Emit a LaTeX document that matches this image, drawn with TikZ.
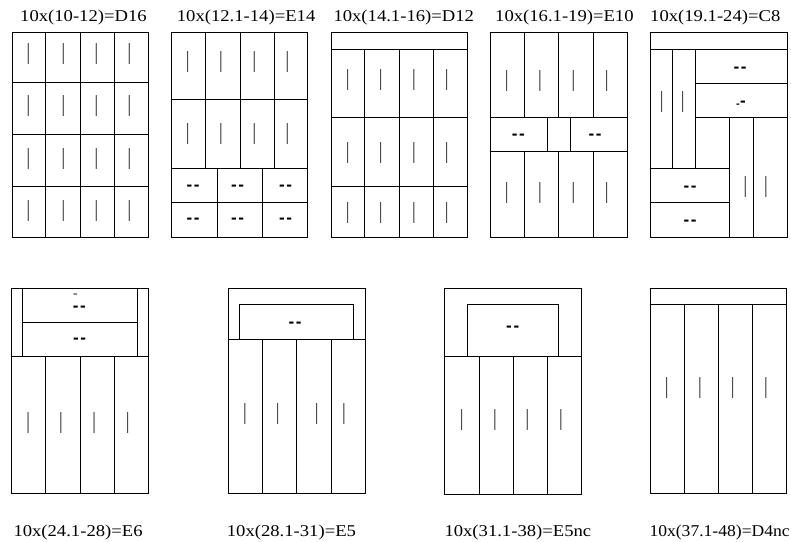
\documentclass[tikz,border=0pt]{standalone}
\usepackage{fontspec}
\setmainfont{Liberation Serif}
\newfontfamily\dashfont{Liberation Sans}
\tikzset{
  wall/.style={draw=black, line width=1pt},
  lbl/.style={anchor=base west, inner sep=0pt, font=\fontsize{16.5}{16.5}\selectfont},
  barmark/.style={inner sep=0pt, text=black!70, font=\fontsize{23}{23}\selectfont},
  dashmark/.style={anchor=base, inner sep=0pt, font=\dashfont\bfseries\fontsize{17}{17}\selectfont},
}
\newcommand{\dd}{-\kern1.6pt-}
\begin{document}
\begin{tikzpicture}[x=1pt,y=-1pt]
\useasboundingbox (0,0) rectangle (791,541);
% ---------- labels ----------
\node[lbl] (t1) at (20,21.5) {\scalebox{1.13}[1]{10x(10-12)=D16}};
\node[lbl] (t2) at (176.7,21.5) {\scalebox{1.13}[1]{10x(12.1-14)=E14}};
\node[lbl] (t3) at (333.3,21.5) {\scalebox{1.13}[1]{10x(14.1-16)=D12}};
\node[lbl] (t4) at (495,21.5) {\scalebox{1.13}[1]{10x(16.1-19)=E10}};
\node[lbl] (t5) at (650,21.5) {\scalebox{1.13}[1]{10x(19.1-24)=C8}};
\node[lbl] (t6) at (13.3,536.7) {\scalebox{1.13}[1]{10x(24.1-28)=E6}};
\node[lbl] (t7) at (226.7,536.7) {\scalebox{1.13}[1]{10x(28.1-31)=E5}};
\node[lbl] (t8) at (444.3,536.7) {\scalebox{1.13}[1]{10x(31.1-38)=E5nc}};
\node[lbl] (t9) at (649.3,536.7) {\scalebox{1.065}[1]{10x(37.1-48)=D4nc}};

% ---------- panel 1 ----------
\draw[wall] (12,32) rectangle (148,237);
\foreach \x in {45.7,80,114.3} \draw[wall] (\x,32) -- (\x,237);
\foreach \y in {82.5,134.5,186} \draw[wall] (12,\y) -- (148,\y);
\foreach \y [count=\j] in {53.8,106,158.8,211.2}
  \foreach \x [count=\i] in {28.5,63.5,96.5,129.5}
    \node[barmark] (pa\j\i) at (\x,\y) {|};

% ---------- panel 2 ----------
\draw[wall] (171,32) rectangle (307.7,237);
\foreach \x in {205.3,240,274} \draw[wall] (\x,32) -- (\x,168.3);
\foreach \y in {99.3,168.3,202.3} \draw[wall] (171,\y) -- (307.7,\y);
\foreach \x in {217,262.3} \draw[wall] (\x,168.3) -- (\x,237);
\foreach \y [count=\j] in {62.5,133.7}
  \foreach \x [count=\i] in {187.7,221,254.3,287.3}
    \node[barmark] (pb\j\i) at (\x,\y) {|};
\foreach \y [count=\j] in {190.2,223.8}
  \foreach \x [count=\i] in {193,237.5,285.5}
    \node[dashmark] (pbd\j\i) at (\x,\y) {\dd};

% ---------- panel 3 ----------
\draw[wall] (331,32) rectangle (467.7,237);
\draw[wall] (331,49) -- (467.7,49);
\foreach \x in {364.7,399,433.3} \draw[wall] (\x,49) -- (\x,237);
\foreach \y in {117.3,186} \draw[wall] (331,\y) -- (467.7,\y);
\foreach \y [count=\j] in {80.3,152.5,212.7}
  \foreach \x [count=\i] in {347.7,380.7,414,446.7}
    \node[barmark] (pc\j\i) at (\x,\y) {|};

% ---------- panel 4 ----------
\draw[wall] (490.7,32) rectangle (627.3,237);
\foreach \x in {524.7,558.7,593.3} {
  \draw[wall] (\x,32) -- (\x,117.3);
  \draw[wall] (\x,151) -- (\x,237);
}
\foreach \y in {117.3,151} \draw[wall] (490.7,\y) -- (627.3,\y);
\foreach \x in {547.7,570} \draw[wall] (\x,117.3) -- (\x,151);
\foreach \y [count=\j] in {81,192.5}
  \foreach \x [count=\i] in {506.7,540,573.3,606.7}
    \node[barmark] (pd\j\i) at (\x,\y) {|};
\node[dashmark] (pdd1) at (518.3,139.5) {\dd};
\node[dashmark] (pdd2) at (595,139.5) {\dd};

% ---------- panel 5 ----------
\draw[wall] (650,32) rectangle (787,237);
\draw[wall] (650,49) -- (787,49);
\foreach \x in {672.7,695.7} \draw[wall] (\x,49) -- (\x,168.3);
\foreach \y in {83.3,117.3} \draw[wall] (695.7,\y) -- (787,\y);
\foreach \y in {168.3,202.3} \draw[wall] (650,\y) -- (729.3,\y);
\foreach \x in {729.3,753.3} \draw[wall] (\x,117.3) -- (\x,237);
\node[barmark] (pe1) at (661.7,101.7) {|};
\node[barmark] (pe2) at (682.7,101.7) {|};
\node[barmark] (pe3) at (745.3,187) {|};
\node[barmark] (pe4) at (766,187) {|};
\node[dashmark] (ped1) at (740,72.8) {\dd};
\node[dashmark] (ped2) at (741,106.2) {\raisebox{-1.5pt}{\fontsize{11}{11}\selectfont-}\kern0.3pt-};
\node[dashmark] (ped3) at (690,191.8) {\dd};
\node[dashmark] (ped4) at (690,225.5) {\dd};

% ---------- panel 6 ----------
\draw[wall] (11.7,288.3) rectangle (148.7,493.3);
\foreach \x in {22.7,137} \draw[wall] (\x,288.3) -- (\x,356.7);
\draw[wall] (22.7,322.3) -- (137,322.3);
\draw[wall] (11.7,356.7) -- (148.7,356.7);
\foreach \x in {45.7,80,114.3} \draw[wall] (\x,356.7) -- (\x,493.3);
\foreach \x [count=\i] in {28.3,61,94.3,127.7}
  \node[barmark] (pf\i) at (\x,423.3) {|};
\node[dashmark] (pfd1) at (79.3,311.2) {\rlap{\raisebox{12.4pt}{\color{black!75}\mdseries\fontsize{15}{15}\selectfont-}}\dd};
\node[dashmark] (pfd2) at (79.7,343.5) {\dd};

% ---------- panel 7 ----------
\draw[wall] (228.3,288.3) rectangle (365,493.3);
\draw[wall] (239.7,339.3) |- (353.7,304.7) -- (353.7,339.3);
\draw[wall] (228.3,339.3) -- (365,339.3);
\foreach \x in {262.3,296.7,331} \draw[wall] (\x,339.3) -- (\x,493.3);
\foreach \x [count=\i] in {245,277.7,316.7,344}
  \node[barmark] (pg\i) at (\x,414) {|};
\node[dashmark] (pgd) at (295,327.2) {\dd};

% ---------- panel 8 ----------
\draw[wall] (444.7,288.3) rectangle (581,494);
\draw[wall] (467.7,356.7) |- (558.7,304.7) -- (558.7,356.7);
\draw[wall] (444.7,356.7) -- (582,356.7);
\foreach \x in {479,513.3,547.3} \draw[wall] (\x,356.7) -- (\x,494);
\foreach \x [count=\i] in {461.7,495,527.3,561}
  \node[barmark] (ph\i) at (\x,420) {|};
\node[dashmark] (phd) at (512.7,331.8) {\dd};

% ---------- panel 9 ----------
\draw[wall] (650,288.3) rectangle (786.7,493.3);
\draw[wall] (650,304.7) -- (786.7,304.7);
\foreach \x in {684,718.7,752.7} \draw[wall] (\x,304.7) -- (\x,493.3);
\foreach \x [count=\i] in {666.7,700,732.7,766}
  \node[barmark] (pi\i) at (\x,388.3) {|};
\end{tikzpicture}
\end{document}
